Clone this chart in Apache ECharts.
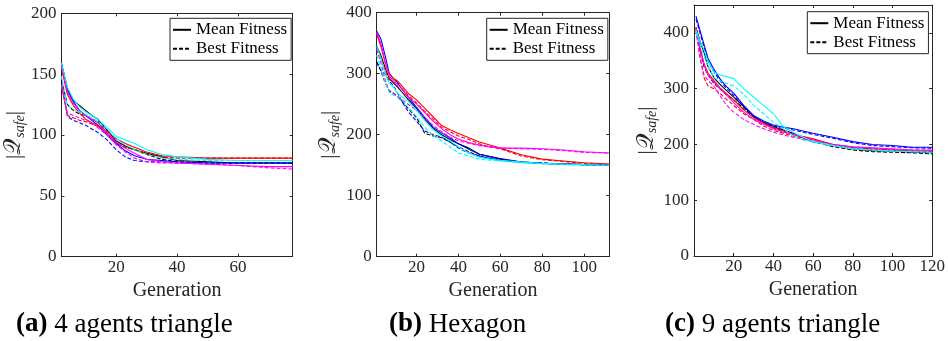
<!DOCTYPE html>
<html>
<head>
<meta charset="utf-8">
<script src="https://cdn.jsdelivr.net/npm/echarts@6/dist/echarts.min.js"></script>
<style>
html,body{margin:0;padding:0;background:#fff;}
#chart{width:948px;height:341px;}
</style>
</head>
<body>
<div id="chart"></div>
<script>
// ---------- Panel (a): 4 agents triangle ----------
const genA = [2,4,6,8,10,12,14,17,20,23,26,30,35,40,50,60,70,78];
const aMeanK = [159,138,128,124,120,116,113,104,95,91,88,85,82,79,78,77,77,77];
const aMeanB = [159,137,127,120,116,112,108,100,93,87,83,80,79,78,77,77,77,77];
const aMeanR = [155,133,124,118,113,110,108,103,97,93,90,86,83,82,81,81,81,81];
const aMeanM = [157,135,126,120,116,113,110,102,94,89,85,80,78,77,76,75,74,74];
const aMeanC = [159,139,129,123,119,116,113,106,99,96,93,88,84,82,80,79,79,79];
const aBestK = [145,125,120,117,116,113,111,102,93,90,88,84,80,78,77,77,77,77];
const aBestB = [143,115,112,110,108,105,102,96,88,82,79,78,78,77,77,77,77,77];
const aBestR = [141,116,114,112,111,109,107,101,94,90,88,84,82,81,81,81,81,81];
const aBestM = [140,118,116,114,112,110,106,100,92,86,81,78,77,77,76,75,73,72];
const aBestC = [148,124,121,119,117,114,111,105,97,92,88,84,81,80,79,79,79,79];

// ---------- Panel (b): Hexagon ----------
const genB = [1,3,5,7,9,11,13,16,20,24,28,32,36,40,45,50,55,60,70,80,90,100,112];
const bMeanK = [345,330,310,292,285,278,270,258,243,225,210,200,192,185,178,168,164,160,155,153,152,151,151];
const bMeanB = [370,357,330,300,292,285,275,262,245,228,212,203,195,185,176,168,164,161,155,153,152,151,150];
const bMeanR = [365,345,318,300,292,288,280,268,257,243,229,215,208,202,195,188,183,178,167,160,157,154,152];
const bMeanM = [368,350,320,296,288,282,275,262,250,236,222,210,200,193,187,183,180,178,178,177,175,172,170];
const bMeanC = [345,325,300,285,278,268,262,255,240,223,208,198,190,180,170,163,160,158,155,153,152,151,150];
const bBestK = [320,305,285,272,268,262,255,243,228,202,198,195,188,180,172,165,161,158,155,153,152,151,150];
const bBestB = [318,305,300,288,280,268,255,238,222,206,200,196,188,178,170,165,161,158,155,154,152,151,150];
const bBestR = [340,325,305,290,286,282,276,265,252,238,225,212,205,198,192,185,180,177,165,159,156,153,151];
const bBestM = [340,318,290,270,268,264,258,250,240,228,215,205,196,190,186,182,180,178,177,176,174,171,170];
const bBestC = [330,310,285,270,265,262,258,245,230,212,198,190,180,170,165,160,158,157,154,152,151,150,150];

// ---------- Panel (c): 9 agents triangle ----------
const genC = [1,3,5,7,10,13,16,20,25,30,35,40,45,50,55,60,70,80,90,100,110,120];
const cMeanK = [410,385,365,340,320,308,298,285,268,250,240,232,226,220,212,205,198,192,189,188,186,185];
const cMeanB = [430,405,380,355,335,318,305,292,270,252,242,235,231,228,224,220,213,205,200,198,195,195];
const cMeanR = [410,375,345,328,315,302,292,280,262,248,238,230,224,218,214,210,200,195,192,190,188,188];
const cMeanM = [410,372,345,325,312,300,290,275,258,245,236,228,222,218,213,208,200,196,194,192,190,190];
const cMeanC = [405,385,370,350,330,325,322,318,300,285,270,255,232,222,213,205,198,192,190,188,187,186];
const cBestK = [408,370,340,325,310,300,290,280,265,250,240,230,224,218,212,205,196,190,187,186,185,183];
const cBestB = [425,400,375,350,330,315,302,288,268,250,240,233,229,226,222,218,211,203,198,196,194,193];
const cBestR = [405,360,320,305,300,292,282,270,255,245,233,225,220,215,211,208,200,195,191,189,188,187];
const cBestM = [405,355,325,315,305,288,272,258,245,236,228,222,217,213,209,205,200,195,193,191,190,189];
const cBestC = [400,380,360,340,320,314,310,305,290,270,255,240,228,215,208,205,198,192,190,188,187,186];

// ---------- Axis / label text ----------
const xTicksA = [20,40,60];
const xTicksB = [20,40,60,80,100];
const xTicksC = [20,40,60,80,100,120];
const yTicksA = [0,50,100,150,200];
const yTicksB = [0,100,200,300,400];
const yTicksC = [0,100,200,300,400];
const captions = ['4 agents triangle','Hexagon','9 agents triangle'];
const captionTags = ['(a)','(b)','(c)'];
const legendNames = ['Mean Fitness','Best Fitness'];
const xName = 'Generation';

const colors = {K:'#000000', B:'#0000ff', R:'#ff0000', M:'#ff00ff', C:'#00ffff'};
const FONT = 'Liberation Serif';
const AX = '#262626';

const panels = [
  {gen:genA, mean:{K:aMeanK,B:aMeanB,R:aMeanR,M:aMeanM,C:aMeanC}, best:{K:aBestK,B:aBestB,R:aBestR,M:aBestM,C:aBestC},
   xmin:2, xmax:78, ymin:0, ymax:200, xt:xTicksA, yt:yTicksA,
   grid:{left:60, top:13.3, width:232.7, height:243.4}, nameGap:30, legend:{left:170, top:18.3}, cap:{x:16}},
  {gen:genB, mean:{K:bMeanK,B:bMeanB,R:bMeanR,M:bMeanM,C:bMeanC}, best:{K:bBestK,B:bBestB,R:bBestR,M:bBestM,C:bBestC},
   xmin:1, xmax:112, ymin:0, ymax:400, xt:xTicksB, yt:yTicksB,
   grid:{left:376.7, top:12.7, width:232.6, height:244}, nameGap:29, legend:{left:486.7, top:18.3}, cap:{x:389}},
  {gen:genC, mean:{K:cMeanK,B:cMeanB,R:cMeanR,M:cMeanM,C:cMeanC}, best:{K:cBestK,B:cBestB,R:cBestR,M:cBestM,C:cBestC},
   xmin:0, xmax:120, ymin:0, ymax:450, xt:xTicksC, yt:yTicksC,
   grid:{left:694, top:5, width:238.7, height:251}, nameGap:31, legend:{left:807.3, top:11.7}, cap:{x:665}}
];

const grids=[], xAxes=[], yAxes=[], series=[], legends=[], graphics=[];

panels.forEach((p, i) => {
  grids.push(Object.assign({containLabel:false}, p.grid));
  const tickCommon = {show:true, inside:true, length:3, lineStyle:{color:AX, width:1}};
  xAxes.push({type:'value', gridIndex:i, position:'bottom', min:p.xmin, max:p.xmax,
    axisLine:{show:true, onZero:false, lineStyle:{color:AX, width:1}},
    axisTick:Object.assign({customValues:p.xt}, tickCommon),
    axisLabel:{customValues:p.xt, color:AX, fontFamily:FONT, fontSize:17, margin:2},
    splitLine:{show:false},
    name:xName, nameLocation:'middle', nameGap:24,
    nameTextStyle:{color:AX, fontFamily:FONT, fontSize:20}});
  xAxes.push({type:'value', gridIndex:i, position:'top', min:p.xmin, max:p.xmax,
    axisLine:{show:true, onZero:false, lineStyle:{color:AX, width:1}},
    axisTick:Object.assign({customValues:p.xt}, tickCommon),
    axisLabel:{show:false}, splitLine:{show:false}});
  yAxes.push({type:'value', gridIndex:i, position:'left', min:p.ymin, max:p.ymax,
    axisLine:{show:true, onZero:false, lineStyle:{color:AX, width:1}},
    axisTick:Object.assign({customValues:p.yt}, tickCommon),
    axisLabel:{customValues:p.yt, color:AX, fontFamily:FONT, fontSize:17, margin:5},
    splitLine:{show:false},
    name:'|{q|\uD835\uDCAC}{s|safe}|', nameLocation:'middle', nameRotate:90, nameGap:p.nameGap,
    nameTextStyle:{color:AX, fontFamily:FONT, fontSize:21, lineHeight:26,
      rich:{q:{fontSize:23, fontFamily:'DejaVu Serif, '+FONT, color:AX, lineHeight:26},
            s:{fontSize:14, fontStyle:'italic', fontFamily:FONT, color:AX, verticalAlign:'bottom', lineHeight:15}}}});
  yAxes.push({type:'value', gridIndex:i, position:'right', min:p.ymin, max:p.ymax,
    axisLine:{show:true, onZero:false, lineStyle:{color:AX, width:1}},
    axisTick:Object.assign({customValues:p.yt}, tickCommon),
    axisLabel:{show:false}, splitLine:{show:false}});

  ['K','B','R','M','C'].forEach(k => {
    [['mean','solid'],['best',[4,2]]].forEach(([kind, dash]) => {
      series.push({type:'line', name:'p'+i+'-'+k+'-'+kind, xAxisIndex:2*i, yAxisIndex:2*i,
        data:p.gen.map((g, j) => [g, p[kind][k][j]]),
        showSymbol:false, symbol:'none', smooth:false, silent:true,
        lineStyle:{color:colors[k], width:1.1, type:dash}, itemStyle:{color:colors[k]}});
    });
  });

  legends.push({show:true, orient:'vertical', left:p.legend.left, top:p.legend.top,
    data:legendNames, borderColor:AX, borderWidth:1, borderRadius:0, backgroundColor:'#fff',
    padding:[2,4,2,2], itemGap:0, itemWidth:18, itemHeight:10, selectedMode:false,
    itemStyle:{color:'rgba(0,0,0,0)', borderWidth:0, opacity:0},
    textStyle:{color:'#000', fontFamily:FONT, fontSize:17, lineHeight:19}});

  graphics.push({type:'text', left:p.cap.x, top:311,
    style:{text:'{b|'+captionTags[i]+'} '+captions[i], fill:'#000', font:'27px "Liberation Serif"',
      rich:{b:{fontWeight:'bold', fontSize:27, fontFamily:FONT}}}});
});

series.push({type:'line', name:legendNames[0], xAxisIndex:0, yAxisIndex:0, data:[], symbol:'none',
  lineStyle:{color:'#000', width:1, type:'solid'}, itemStyle:{color:'#000'}});
series.push({type:'line', name:legendNames[1], xAxisIndex:0, yAxisIndex:0, data:[], symbol:'none',
  lineStyle:{color:'#000', width:1, type:[4,2]}, itemStyle:{color:'#000'}});

const chart = echarts.init(document.getElementById('chart'), null, {renderer:'canvas'});
chart.setOption({animation:false, backgroundColor:'#fff', grid:grids, xAxis:xAxes, yAxis:yAxes,
  series:series, legend:legends, graphic:graphics});
</script>
</body>
</html>
